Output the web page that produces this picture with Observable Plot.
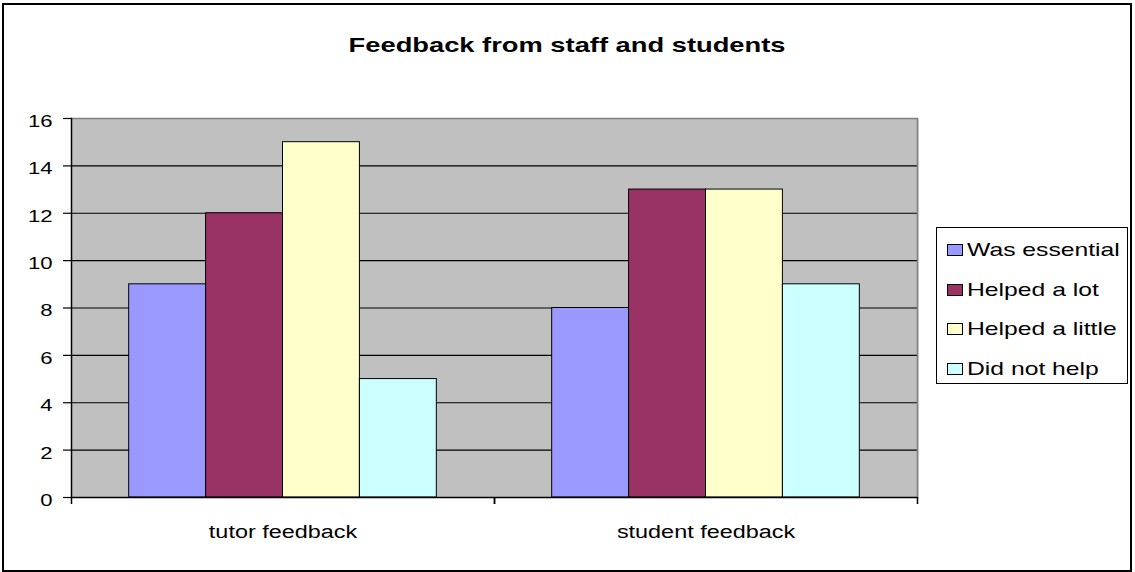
<!DOCTYPE html>
<html><head><meta charset="utf-8">
<script src="https://cdn.jsdelivr.net/npm/d3@7"></script>
<script src="https://cdn.jsdelivr.net/npm/@observablehq/plot@0.6"></script>
<style>
html,body{margin:0;padding:0;background:#fff;}
#chart{position:relative;width:1135px;height:572px;font-family:"Liberation Sans",Arial,sans-serif;overflow:hidden;color:#000;}
#chart svg{position:absolute;left:0;top:0;}
.abs{position:absolute;pointer-events:none;}
</style></head><body><div id="chart"></div>
<script>
const categories = ["tutor feedback", "student feedback"];
const series = ["Was essential", "Helped a lot", "Helped a little", "Did not help"];
const seriesColors = ["#9999FF", "#993366", "#FFFFCC", "#CCFFFF"];
const tutorValues = [9, 12, 15, 5];
const studentValues = [8, 13, 13, 9];
const yTicks = [0, 2, 4, 6, 8, 10, 12, 14, 16];
const titleText = "Feedback from staff and students";

const data = [];
series.forEach((s, i) => {
  data.push({cat: categories[0], series: s, value: tutorValues[i]});
  data.push({cat: categories[1], series: s, value: studentValues[i]});
});

const W = 1135, H = 572, mL = 71, mR = 218, mT = 118, mB = 75;
const halfBand = (W - mL - mR) / categories.length / 2;
const STRETCH = 1.3;
const FONT = '"Liberation Sans", Arial, sans-serif';

const plot = Plot.plot({
  width: W, height: H, marginLeft: mL, marginRight: mR, marginTop: mT, marginBottom: mB,
  style: {fontFamily: FONT, fontSize: "17px", color: "black", background: "transparent", overflow: "visible"},
  fx: {domain: categories, padding: 0, round: false, label: null},
  x: {domain: series, paddingInner: 0, paddingOuter: 0.75, round: false, axis: null},
  y: {domain: [0, 16], label: null},
  color: {domain: series, range: seriesColors},
  marks: [
    Plot.frame({fill: "#C0C0C0", insetRight: -1}),
    Plot.ruleY(yTicks.slice(1, -1), {stroke: "black", strokeWidth: 1.2}),
    Plot.ruleY([16], {stroke: "#808080", strokeWidth: 1.5}),
    Plot.frame({anchor: "right", stroke: "#808080", strokeWidth: 1.5, facetAnchor: "right"}),
    Plot.barY(data, {fx: "cat", x: "series", y: "value", fill: "series", stroke: "black", strokeWidth: 1, insetLeft: 0, insetRight: 0}),
    Plot.ruleY([0], {stroke: "black", strokeWidth: 1.5}),
    Plot.frame({anchor: "left", stroke: "black", strokeWidth: 1.5, facetAnchor: "left"}),
    Plot.axisY({ticks: yTicks, tickSize: 8, fill: "none", stroke: "black", strokeWidth: 1.2, label: null}),
    Plot.axisY({ticks: yTicks, tickSize: 8, tickPadding: 11, stroke: "none", fill: "black", dy: 3, fontSize: 17, label: null}),
    Plot.axisFx({anchor: "bottom", tickSize: 7, fill: "none", stroke: "black", strokeWidth: 1.5, dx: -halfBand, label: null}),
    Plot.axisFx({anchor: "bottom", tickSize: 7, fill: "none", stroke: "black", strokeWidth: 1.5, dx: halfBand, label: null}),
    Plot.axisFx({anchor: "bottom", tickSize: 0, tickPadding: 28, stroke: "none", fill: "black", fontSize: 18, label: null})
  ]
});

const chart = document.getElementById("chart");
chart.appendChild(plot);

// horizontal stretch of glyphs as in the reference rendering
plot.querySelectorAll("text").forEach(t => {
  const w = t.getComputedTextLength();
  if (w > 0) {
    t.setAttribute("textLength", w * STRETCH);
    t.setAttribute("lengthAdjust", "spacingAndGlyphs");
  }
});

// outer border
const border = document.createElement("div");
border.className = "abs";
Object.assign(border.style, {left: "2px", top: "3px", width: "1130px", height: "569px", border: "2px solid #000", boxSizing: "border-box"});
chart.appendChild(border);

// title
const title = document.createElement("div");
title.className = "abs";
Object.assign(title.style, {left: "0px", top: "34px", width: W + "px", textAlign: "center", font: `bold 21px/21px ${FONT}`});
const tspan = document.createElement("span");
tspan.textContent = titleText;
Object.assign(tspan.style, {display: "inline-block", transform: `scaleX(${STRETCH})`, transformOrigin: "center", whiteSpace: "nowrap"});
title.appendChild(tspan);
chart.appendChild(title);

// legend
const legend = document.createElement("div");
legend.className = "abs";
Object.assign(legend.style, {left: "936px", top: "227px", width: "192px", height: "157px", border: "1.5px solid #000", boxSizing: "border-box", background: "#fff"});
chart.appendChild(legend);
const rowBaselines = [256, 296, 335, 375];
const LFS = 19;
series.forEach((s, i) => {
  const sw = document.createElement("div");
  sw.className = "abs";
  Object.assign(sw.style, {left: "947px", top: (rowBaselines[i] - 12) + "px", width: "16px", height: "12px", background: seriesColors[i], border: "1.5px solid #000", boxSizing: "border-box"});
  chart.appendChild(sw);
  const lab = document.createElement("div");
  lab.className = "abs";
  Object.assign(lab.style, {left: "967px", top: (rowBaselines[i] - 0.8465 * LFS) + "px", font: `${LFS}px/${LFS}px ${FONT}`, whiteSpace: "nowrap", transform: `scaleX(${STRETCH})`, transformOrigin: "left"});
  lab.textContent = s;
  chart.appendChild(lab);
});
</script>
</body></html>
